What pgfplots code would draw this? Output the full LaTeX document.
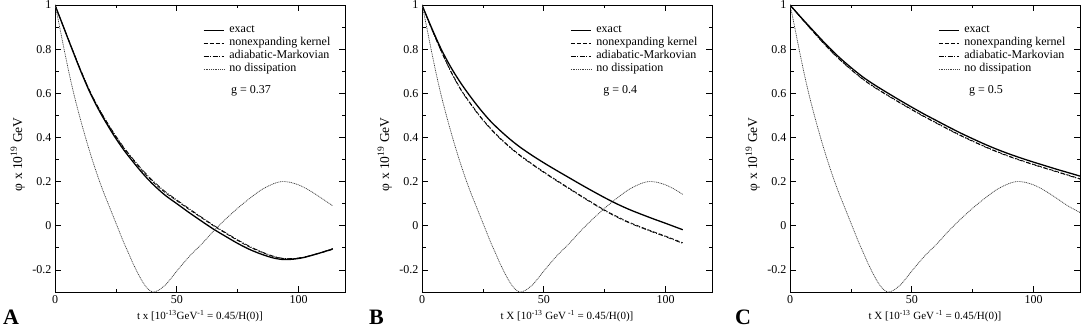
\documentclass[border=0pt]{standalone}
\usepackage{fontspec}
\setmainfont{Liberation Serif}
\usepackage{pgfplots}
\pgfplotsset{compat=1.18}
\usepackage{pgfplotstable}

% no dissipation (same in all three panels)
\pgfplotstableread{
t phi
0 1.000
1 0.95
2 0.895
3 0.84
4 0.785
6 0.68
8 0.585
10 0.5
12 0.42
14 0.345
16 0.275
18 0.21
20 0.15
22 0.095
24 0.04
26 -0.015
28 -0.07
30 -0.12
32 -0.17
34 -0.215
36 -0.255
38 -0.285
40 -0.3
42 -0.295
44 -0.28
46 -0.26
50 -0.205
55 -0.14
60 -0.085
65 -0.025
70 0.03
75 0.08
80 0.125
85 0.165
90 0.192
93 0.2
96 0.198
100 0.185
104 0.163
107 0.142
110 0.12
114 0.09
117 0.072
119 0.06
}\nodiss

\pgfplotsset{
  panel/.style={
    scale only axis, width=290pt, height=287pt,
    xmin=0, xmax=119, ymin=-0.3, ymax=1,
    xtick={0,50,100}, xticklabels={0,50,100},
    ytick={-0.2,0,0.2,0.4,0.6,0.8,1},
    yticklabels={-0.2,0,0.2,0.4,0.6,0.8,1},
    minor xtick={25,75}, minor ytick={-0.1,0.1,0.3,0.5,0.7,0.9},
    tick align=inside, major tick length=6pt, minor tick length=3.5pt,
    tick style={black, line width=0.8pt},
    axis line style={line width=0.8pt},
    ticklabel style={font=\fontsize{12}{12}\selectfont},
    xlabel style={font=\fontsize{11}{11}\selectfont},
    ylabel={φ x 10\textsuperscript{19} GeV},
    every axis y label/.style={at={(rel axis cs:-0.128,0.48)}, rotate=90,
      anchor=center, font=\fontsize{13.5}{13.5}\selectfont},
    legend style={draw=none, fill=none, at={(0.51,0.935)}, anchor=north west,
      font=\fontsize{12}{13}\selectfont, row sep=0pt, column sep=5pt, inner sep=0pt,
      nodes={inner sep=0pt, text height=8.5pt, text depth=4.5pt}},
    legend cell align=left,
    legend image code/.code={\draw[#1] (0pt,0pt) -- (20pt,0pt);},
  },
  exact/.style={black, line width=1.3pt, smooth},
  nonexp/.style={black, line width=0.7pt, smooth, dash pattern=on 4pt off 2pt},
  adiab/.style={black, line width=0.7pt, smooth, dash pattern=on 5pt off 1.5pt on 1pt off 1.5pt},
  nodis/.style={black!75, line width=0.7pt, smooth, dash pattern=on 1pt off 0.8pt},
}

\begin{document}
\begin{tikzpicture}
\useasboundingbox (0,0) rectangle (1081pt,327pt);

% ---------- A ----------
\begin{axis}[panel, at={(55pt,35pt)}, anchor=south west,
  xlabel={t x [10\textsuperscript{-13}GeV\textsuperscript{-1} = 0.45/H(0)]}]
\addplot[exact] coordinates {
(0,1.000) (3.5,0.900) (7,0.800) (10.5,0.702) (14,0.612) (17,0.545) (20,0.485)
(24,0.412) (28,0.347) (32,0.29) (36,0.237) (40,0.19) (45,0.14) (50,0.1)
(55,0.06) (60,0.022) (65,-0.015) (70,-0.048) (75,-0.08) (80,-0.108)
(85,-0.13) (90,-0.147) (94,-0.153) (98,-0.151) (102,-0.144) (106,-0.132)
(110,-0.119) (114,-0.105)};
\addlegendentry{exact}
\addplot[nonexp] coordinates {
(0,1.000) (3.5,0.900) (7,0.802) (10.5,0.705) (14,0.616) (17,0.55) (20,0.491)
(24,0.419) (28,0.355) (32,0.299) (36,0.247) (40,0.201) (45,0.152) (50,0.113)
(55,0.074) (60,0.037) (65,0.0) (70,-0.034) (75,-0.067) (80,-0.097)
(85,-0.121) (90,-0.141) (94,-0.149) (98,-0.149) (102,-0.143) (106,-0.132)
(110,-0.12) (114,-0.107)};
\addlegendentry{nonexpanding kernel}
\addplot[adiab] coordinates {
(0,1.000) (3.5,0.901) (7,0.803) (10.5,0.707) (14,0.618) (17,0.552) (20,0.494)
(24,0.423) (28,0.359) (32,0.303) (36,0.252) (40,0.206) (45,0.157) (50,0.117)
(55,0.078) (60,0.04) (65,0.003) (70,-0.031) (75,-0.064) (80,-0.094)
(85,-0.119) (90,-0.139) (94,-0.148) (98,-0.148) (102,-0.142) (106,-0.131)
(110,-0.118) (114,-0.103)};
\addlegendentry{adiabatic-Markovian}
\addplot[nodis, restrict x to domain=0:114] table[x=t, y=phi] {\nodiss};
\addlegendentry{no dissipation}
\node[font=\fontsize{12}{12}\selectfont] at (rel axis cs:0.676,0.701) {g = 0.37};
\end{axis}

% ---------- B ----------
\begin{axis}[panel, at={(422pt,35pt)}, anchor=south west,
  xlabel={t X [10\textsuperscript{-13} GeV\textsuperscript{ -1} = 0.45/H(0)]}]
\addplot[exact] coordinates {
(0,1.000) (4,0.895) (8,0.797) (12,0.715) (16,0.645) (20,0.583) (24,0.526)
(28,0.475) (32,0.432) (36,0.393) (40,0.358) (45,0.32) (50,0.285) (55,0.252)
(60,0.22) (65,0.188) (70,0.157) (75,0.127) (80,0.099) (85,0.074) (90,0.052)
(95,0.031) (100,0.011) (107,-0.018)};
\addlegendentry{exact}
\addplot[nonexp] coordinates {
(0,1.000) (4,0.891) (8,0.789) (12,0.697) (16,0.617) (20,0.553) (24,0.494)
(28,0.443) (32,0.398) (36,0.358) (40,0.322) (45,0.282) (50,0.244) (55,0.208)
(60,0.173) (65,0.138) (70,0.104) (75,0.071) (80,0.042) (85,0.016) (90,-0.006)
(95,-0.027) (100,-0.047) (107,-0.077)};
\addlegendentry{nonexpanding kernel}
\addplot[adiab] coordinates {
(0,1.000) (4,0.89) (8,0.787) (12,0.694) (16,0.614) (20,0.55) (24,0.491)
(28,0.44) (32,0.395) (36,0.355) (40,0.319) (45,0.279) (50,0.241) (55,0.205)
(60,0.17) (65,0.135) (70,0.101) (75,0.068) (80,0.039) (85,0.013) (90,-0.009)
(95,-0.03) (100,-0.05) (107,-0.08)};
\addlegendentry{adiabatic-Markovian}
\addplot[nodis, restrict x to domain=0:107] table[x=t, y=phi] {\nodiss};
\addlegendentry{no dissipation}
\node[font=\fontsize{12}{12}\selectfont] at (rel axis cs:0.684,0.701) {g = 0.4};
\end{axis}

% ---------- C ----------
\begin{axis}[panel, at={(790pt,35pt)}, anchor=south west,
  xlabel={t X [10\textsuperscript{-13} GeV\textsuperscript{ -1} = 0.45/H(0)]}]
\addplot[exact] coordinates {
(0,1.000) (5,0.938) (10,0.878) (15,0.819) (20,0.765) (25,0.717) (30,0.673)
(35,0.636) (40,0.602) (45,0.569) (50,0.537) (55,0.506) (60,0.477) (65,0.448)
(70,0.420) (75,0.394) (80,0.369) (85,0.346) (90,0.325) (95,0.306) (100,0.288)
(105,0.271) (110,0.254) (115,0.238) (119,0.225)};
\addlegendentry{exact}
\addplot[nonexp] coordinates {
(0,1.000) (5,0.936) (10,0.874) (15,0.813) (20,0.758) (25,0.709) (30,0.664)
(35,0.626) (40,0.592) (45,0.559) (50,0.527) (55,0.496) (60,0.467) (65,0.438)
(70,0.41) (75,0.384) (80,0.359) (85,0.336) (90,0.315) (95,0.296) (100,0.278)
(105,0.261) (110,0.244) (115,0.227) (119,0.213)};
\addlegendentry{nonexpanding kernel}
\addplot[adiab] coordinates {
(0,1.000) (5,0.935) (10,0.872) (15,0.811) (20,0.756) (25,0.707) (30,0.662)
(35,0.624) (40,0.59) (45,0.557) (50,0.525) (55,0.494) (60,0.465) (65,0.436)
(70,0.408) (75,0.382) (80,0.357) (85,0.334) (90,0.313) (95,0.294) (100,0.276)
(105,0.259) (110,0.242) (115,0.225) (119,0.211)};
\addlegendentry{adiabatic-Markovian}
\addplot[nodis] table[x=t, y=phi] {\nodiss};
\addlegendentry{no dissipation}
\node[font=\fontsize{12}{12}\selectfont] at (rel axis cs:0.676,0.701) {g = 0.5};
\end{axis}

\node[anchor=base west, inner sep=0pt, font=\fontsize{22}{22}\selectfont\bfseries] at (3pt,3pt) {A};
\node[anchor=base west, inner sep=0pt, font=\fontsize{22}{22}\selectfont\bfseries] at (369pt,3pt) {B};
\node[anchor=base west, inner sep=0pt, font=\fontsize{22}{22}\selectfont\bfseries] at (735pt,3pt) {C};
\end{tikzpicture}
\end{document}
